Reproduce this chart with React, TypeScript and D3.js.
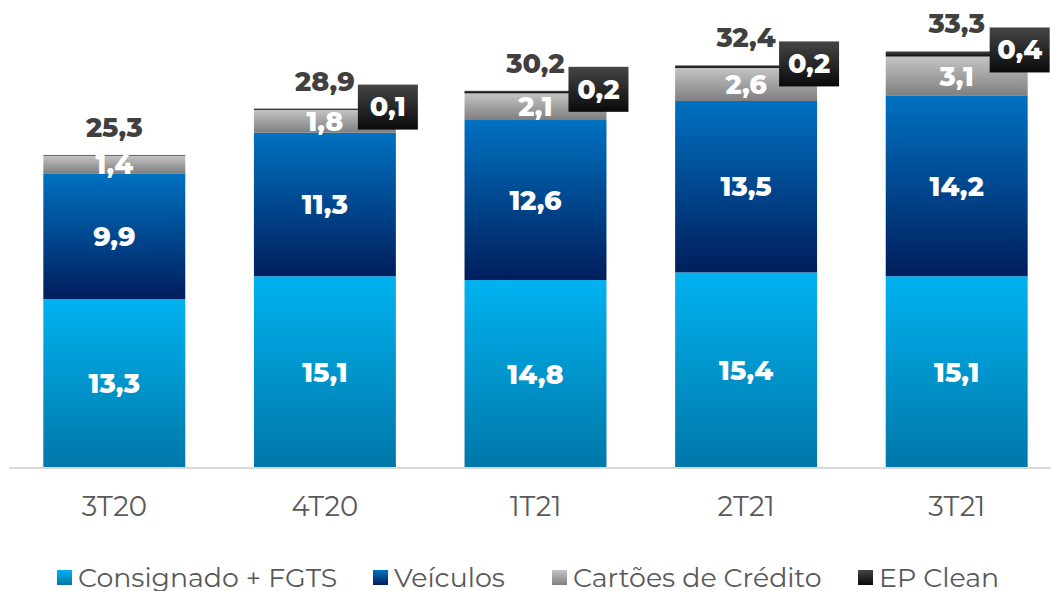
import React from 'react';
import * as d3 from 'd3';

const categories = ['3T20', '4T20', '1T21', '2T21', '3T21'];
const consignado = [13.3, 15.1, 14.8, 15.4, 15.1];
const veiculos = [9.9, 11.3, 12.6, 13.5, 14.2];
const cartoes = [1.4, 1.8, 2.1, 2.6, 3.1];
const epClean = [0.05, 0.1, 0.2, 0.2, 0.4];
const totals = [25.3, 28.9, 30.2, 32.4, 33.3];

const seriesKeys = ['consignado', 'veiculos', 'cartoes', 'epClean'];
const seriesNames = ['Consignado + FGTS', 'Veículos', 'Cartões de Crédito', 'EP Clean'];
// gradient stops, top -> bottom
const seriesColors = [
  ['#00B2F0', '#0077A8'],
  ['#0071C1', '#001E5C'],
  ['#C4C4C4', '#7F7F7F'],
  ['#454545', '#0A0A0A'],
];

const W = 1051;
const H = 591;
const FONT = 'Montserrat, "Open Sans", "DejaVu Sans", sans-serif';

const fmt = (v: number) => v.toFixed(1).replace('.', ',');

export default function App() {
  const table = categories.map((c, i) => ({
    cat: c,
    consignado: consignado[i],
    veiculos: veiculos[i],
    cartoes: cartoes[i],
    epClean: epClean[i],
  }));

  const stacked = d3.stack<any>().keys(seriesKeys)(table);

  const x = d3.scaleBand().domain(categories).range([9, 1062]).paddingInner(0.326).paddingOuter(0.163);
  const y = d3.scaleLinear().domain([0, 35]).range([468, 468 - 35 * 12.7]);

  const legendX = [57, 373, 552, 858];

  return (
    <svg width={W} height={H} style={{ position: 'absolute', left: 0, top: 0 }} fontFamily={FONT}>
      <defs>
        {seriesColors.map((c, i) => (
          <linearGradient key={i} id={`g${i}`} x1="0" y1="0" x2="0" y2="1">
            <stop offset="0%" stopColor={c[0]} />
            <stop offset="100%" stopColor={c[1]} />
          </linearGradient>
        ))}
      </defs>

      {/* bars */}
      {stacked.map((layer, si) =>
        layer.map((d, i) => {
          const x0 = x(categories[i])!;
          const top = y(d[1]);
          const h = y(d[0]) - y(d[1]);
          return (
            <rect key={`${si}-${i}`} x={x0} y={top} width={x.bandwidth()} height={h} fill={`url(#g${si})`} />
          );
        })
      )}

      {/* axis line */}
      <line x1={9} x2={W} y1={468} y2={468} stroke="#D9D9D9" strokeWidth={2} />

      {/* segment labels */}
      {stacked.slice(0, 3).map((layer, si) =>
        layer.map((d, i) => {
          const cx = x(categories[i])! + x.bandwidth() / 2;
          const cy = (y(d[0]) + y(d[1])) / 2;
          return (
            <text key={`l${si}-${i}`} x={cx} y={cy} dy="0.36em" textAnchor="middle" fill="#fff"
              fontSize={27} fontWeight={800}>
              {fmt(d[1] - d[0])}
            </text>
          );
        })
      )}

      {/* EP Clean boxed labels */}
      {stacked[3].map((d, i) => {
        const v = d[1] - d[0];
        if (v < 0.1) return null;
        const cx = x(categories[i])! + x.bandwidth() - 8;
        const cy = y(d[1]) - 2;
        return (
          <g key={`ep${i}`}>
            <rect x={cx - 30} y={cy - 22} width={60} height={45} fill="url(#g3)" />
            <text x={cx} y={cy} dy="0.36em" textAnchor="middle" fill="#fff" fontSize={27} fontWeight={800}>
              {fmt(v)}
            </text>
          </g>
        );
      })}

      {/* totals */}
      {stacked[3].map((d, i) => (
        <text key={`t${i}`} x={x(categories[i])! + x.bandwidth() / 2} y={y(d[1]) - 18} textAnchor="middle"
          fill="#404040" fontSize={27} fontWeight={800}>
          {fmt(totals[i])}
        </text>
      ))}

      {/* category labels */}
      {categories.map((c) => (
        <text key={c} x={x(c)! + x.bandwidth() / 2} y={516} textAnchor="middle" fill="#595959" fontSize={27.5}>
          {c}
        </text>
      ))}

      {/* legend */}
      {seriesNames.map((n, i) => (
        <g key={n}>
          <rect x={legendX[i]} y={570} width={15} height={15} fill={`url(#g${i})`} />
          <text x={legendX[i] + 21} y={587} fill="#595959" fontSize={26.8}>
            {n}
          </text>
        </g>
      ))}
    </svg>
  );
}
